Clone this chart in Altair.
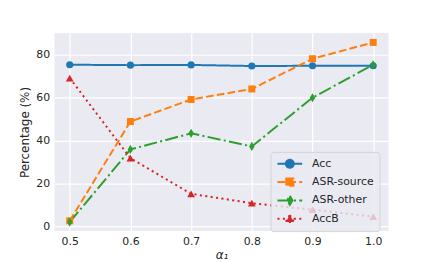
import altair as alt
import pandas as pd

alphas = [0.5, 0.6, 0.7, 0.8, 0.9, 1.0]
series_names = ["Acc", "ASR-source", "ASR-other", "AccB"]
acc = [75.4, 75.2, 75.3, 74.8, 74.9, 74.9]
asr_source = [2.6, 48.9, 59.2, 64.1, 78.2, 85.8]
asr_other = [2.0, 35.9, 43.4, 37.3, 60.0, 75.4]
accb = [69.2, 31.8, 15.2, 10.8, 7.8, 4.6]

colors = ["#1f77b4", "#ff7f0e", "#2ca02c", "#d62728"]
dashes = [[1, 0], [7.7, 3.3], [13.3, 3.3, 2.1, 3.3], [2.1, 3.4]]
thin_diamond = "M0,-1L0.6,0L0,1L-0.6,0Z"
point_shapes = ["circle", "square", thin_diamond, "triangle-up"]
point_sizes = [52, 50, 85, 62]

# legend symbol box is 12px wide (unit = 6px); line is 25px long
legend_paths = [
    "M-2.08,0L2.08,0M0.67,0A0.67,0.67,0,1,1,-0.67,0A0.67,0.67,0,1,1,0.67,0Z",
    "M-2.08,0L2.08,0M-0.6,-0.6L0.6,-0.6L0.6,0.6L-0.6,0.6Z",
    "M-2.08,0L2.08,0M0,-0.76L0.45,0L0,0.76L-0.45,0Z",
    "M-2.08,0L2.08,0M0,-0.62L0.68,0.55L-0.68,0.55Z",
]

rows = []
for name, vals in zip(series_names, [acc, asr_source, asr_other, accb]):
    for a, v in zip(alphas, vals):
        rows.append({"alpha": a, "series": name, "value": v})
df = pd.DataFrame(rows)

xs = alt.X("alpha:Q", scale=alt.Scale(domain=[0.475, 1.025], nice=False, zero=False),
           axis=alt.Axis(values=alphas, format=".1f", title="α₁"))
ys = alt.Y("value:Q", scale=alt.Scale(domain=[-2.2, 90.2], nice=False, zero=False),
           axis=alt.Axis(values=[0, 20, 40, 60, 80], title="Percentage (%)"))
cscale = alt.Scale(domain=series_names, range=colors)
dscale = alt.Scale(domain=series_names, range=dashes)

base = alt.Chart(df)
leg = dict(title=None, orient="none", legendX=218, legendY=120)

legend_layer = base.transform_filter("datum.alpha < 0").mark_point(filled=True, opacity=1).encode(
    x=xs, y=ys,
    color=alt.Color("series:N", scale=cscale, sort=series_names, legend=alt.Legend(**leg)),
    stroke=alt.Stroke("series:N", scale=alt.Scale(domain=series_names, range=colors), sort=series_names,
                      legend=alt.Legend(**leg)),
    shape=alt.Shape("series:N", scale=alt.Scale(domain=series_names, range=legend_paths), sort=series_names,
                    legend=alt.Legend(**leg)),
    strokeDash=alt.StrokeDash("series:N", scale=dscale, sort=series_names, legend=alt.Legend(**leg)),
)

lines = base.mark_line(strokeWidth=2, clip=False).encode(
    x=xs, y=ys,
    color=alt.Color("series:N", scale=cscale, legend=None),
    strokeDash=alt.StrokeDash("series:N", scale=dscale, legend=None),
    detail="series:N",
)

point_layers = []
for name, shp, sz in zip(series_names, point_shapes, point_sizes):
    point_layers.append(
        base.transform_filter(alt.datum.series == name).mark_point(
            filled=True, opacity=1, shape=shp, size=sz
        ).encode(x=xs, y=ys, color=alt.Color("series:N", scale=cscale, legend=None))
    )

chart = alt.layer(legend_layer, lines, *point_layers).properties(
    width=337, height=200,
    autosize=alt.AutoSizeParams(type="none"),
    padding={"left": 47, "top": 24, "right": 40, "bottom": 34},
).configure_view(fill="#EAEAF2", stroke=None).configure_axis(
    domain=False, ticks=False, grid=True, gridColor="white", gridWidth=1.2,
    labelFont="DejaVu Sans", labelFontSize=11, labelColor="#262626", labelPadding=5,
    titleFont="DejaVu Sans", titleFontSize=12, titleColor="#262626", titleFontWeight="normal",
).configure_axisY(titlePadding=4).configure_axisX(titlePadding=3, titleFontStyle="italic", labelPadding=5).configure_legend(
    fillColor="rgba(234,234,242,0.8)", strokeColor="rgba(204,204,204,0.8)", cornerRadius=3,
    padding=5, labelFont="DejaVu Sans", labelFontSize=11, labelColor="#262626",
    symbolSize=144, symbolStrokeWidth=2, symbolOffset=7.5, labelOffset=15.5, rowPadding=1.5, symbolOpacity=1,
)

chart.save("out.html", embed_options={"renderer": "svg", "actions": False})
